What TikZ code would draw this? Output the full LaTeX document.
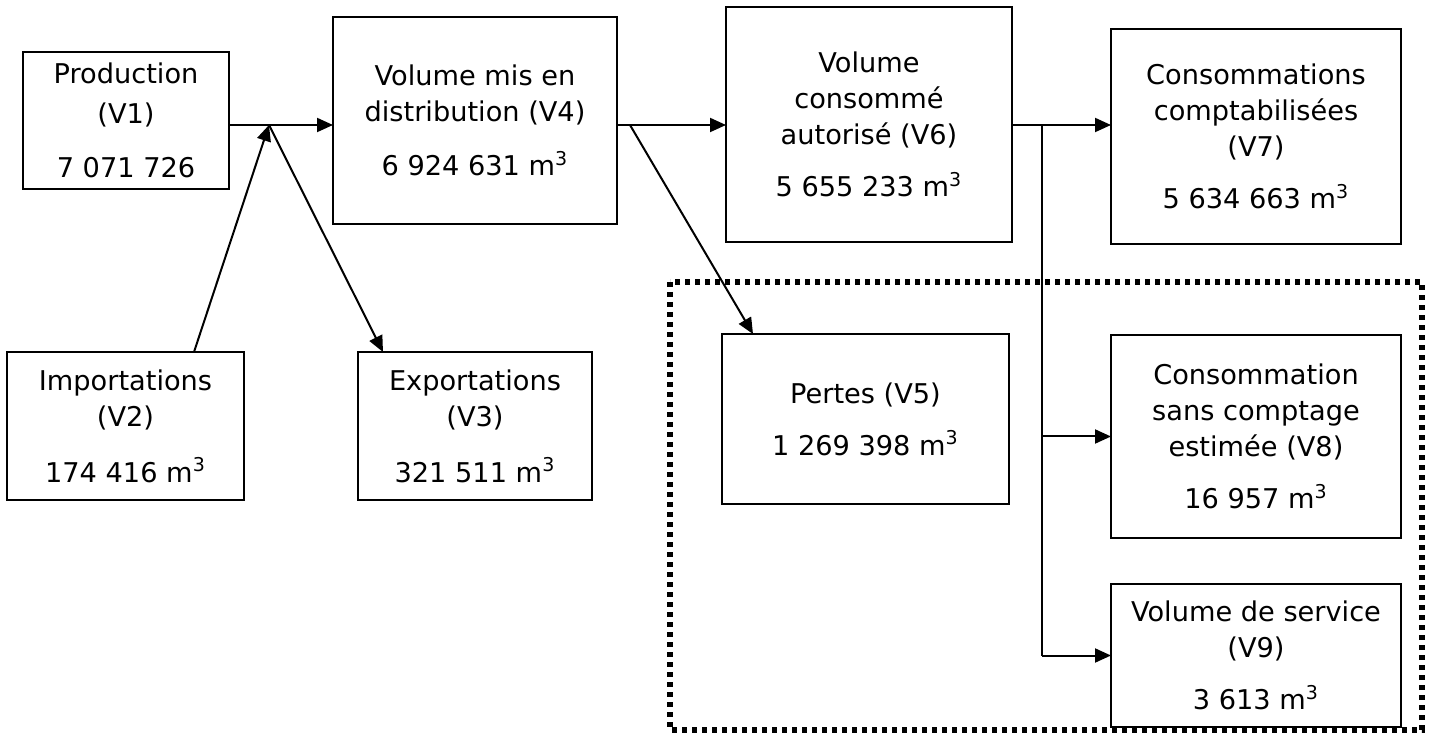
\documentclass[tikz,border=0pt]{standalone}
\usepackage{fontspec}
\setmainfont{DejaVu Sans}
\usepackage{xcolor}
\usepackage{tikz}
\usetikzlibrary{arrows.meta, positioning, calc}

\begin{document}
\begin{tikzpicture}[
    x=0.5pt, y=-0.5pt,
    % --- styles des boites ---
    vol/.style={rectangle, draw=black, line width=1pt, anchor=north west,
        align=center, inner sep=0pt, outer sep=0pt,
        font=\fontsize{13.6}{18}\selectfont},
    % --- styles des fleches ---
    arr/.style={-{Triangle[length=8pt, width=7pt]}, line width=1pt},
    lien/.style={line width=1pt},
    zone/.style={draw=black, line width=2.6pt, dash pattern=on 2.5pt off 2.5pt}
]
\useasboundingbox (0,0) rectangle (1435,737);

%%% ================= PERIMETRE DES PERTES =================
\draw [zone] (670,282) rectangle (1422,730);

%%% ================= COLONNE 1 : ENTREES =================
\node (prod) [vol, minimum width=103pt, minimum height=68.5pt] at (23,52)
    {Production\\[2pt](V1)\\[9pt]7 071 726};
\node (imp) [vol, minimum width=118.5pt, minimum height=74pt] at (7,352)
    {Importations\\(V2)\\[10pt]174 416 m\textsuperscript{3}};

%%% ================= COLONNE 2 : DISTRIBUTION =================
\node (v4) [vol, minimum width=142pt, minimum height=103.5pt] at (333,17)
    {Volume mis en\\distribution (V4)\\[9pt]6 924 631 m\textsuperscript{3}};
\node (exp) [vol, minimum width=117pt, minimum height=74pt] at (358,352)
    {Exportations\\(V3)\\[10pt]321 511 m\textsuperscript{3}};

%%% ================= COLONNE 3 : CONSOMME / PERTES =================
\node (v6) [vol, minimum width=143pt, minimum height=117.5pt] at (726,7)
    {Volume\\consomm\'e\\autoris\'e (V6)\\[8pt]5 655 233 m\textsuperscript{3}};
\node (v5) [vol, minimum width=143.5pt, minimum height=85pt] at (722,334)
    {Pertes (V5)\\[8pt]1 269 398 m\textsuperscript{3}};

%%% ================= COLONNE 4 : DETAIL DU CONSOMME =================
\node (v7) [vol, minimum width=145pt, minimum height=107.5pt] at (1111,29)
    {Consommations\\comptabilis\'ees\\(V7)\\[8pt]5 634 663 m\textsuperscript{3}};
\node (v8) [vol, minimum width=145pt, minimum height=101.5pt] at (1111,335)
    {Consommation\\sans comptage\\estim\'ee (V8)\\[8pt]16 957 m\textsuperscript{3}};
\node (v9) [vol, minimum width=145pt, minimum height=71.5pt] at (1111,584)
    {Volume de service\\(V9)\\[8pt]3 613 m\textsuperscript{3}};

%%% ================= FLECHES =================
\coordinate (junc) at (269,125);
\coordinate (split1) at (630,125);
\coordinate (split2) at (1042,125);

%% Echanges avec l'exterieur
\draw [arr] (prod.east |- junc) -- (v4.west |- junc);
\draw [arr] ([xshift=34.25pt]imp.north) -- (junc);
\draw [arr] (junc) -- ([xshift=-46pt]exp.north);

%% Distribution -> consomme / pertes
\draw [arr] (v4.east |- split1) -- (v6.west |- split1);
\draw [arr] (split1) -- ([xshift=-56.25pt]v5.north);

%% Repartition du consomme
\draw [arr] (v6.east |- split2) -- (v7.west |- split2);
\draw [lien] (split2) -- (split2 |- v9.west);
\draw [arr] (split2 |- v8.west) -- (v8.west);
\draw [arr] (split2 |- v9.west) -- (v9.west);

\end{tikzpicture}
\end{document}
